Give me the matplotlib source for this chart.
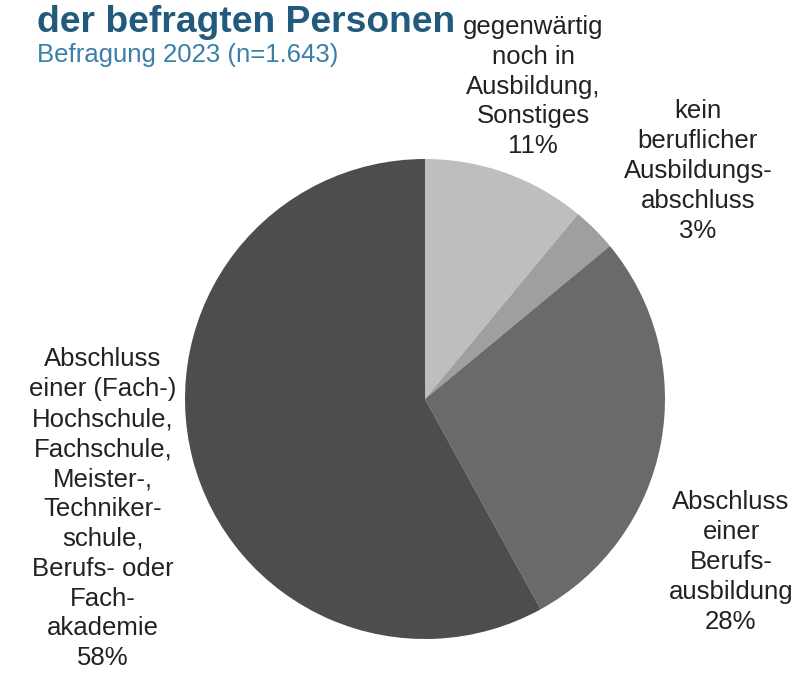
import matplotlib
matplotlib.use("Agg")
import matplotlib.pyplot as plt

plt.rcParams['font.family'] = ['Liberation Sans', 'DejaVu Sans']

# categories clockwise from the top
labels = ["gegenwärtig\nnoch in\nAusbildung,\nSonstiges",
          "kein\nberuflicher\nAusbildungs-\nabschluss",
          "Abschluss\neiner\nBerufs-\nausbildung",
          "Abschluss\neiner (Fach-)\nHochschule,\nFachschule,\nMeister-,\nTechniker-\nschule,\nBerufs- oder\nFach-\nakademie"]
shares = [11, 3, 28, 58]
colors = ["#bebebe", "#9f9f9f", "#6a6a6a", "#4d4d4d"]

# label centres in units of the pie radius
label_pos = [(0.45, 1.302), (1.137, 0.95), (1.275, -0.679), (-1.342, -0.458)]

fig = plt.figure(figsize=(7.98, 6.75), dpi=100)
ax = fig.add_axes([0, 0, 1, 1])
ax.pie(shares, colors=colors, startangle=90, counterclock=False, radius=1,
       wedgeprops={'linewidth': 0})
ax.set_xlim(-425 / 240, (798 - 425) / 240)
ax.set_ylim(-(675 - 399) / 240, 399 / 240)
ax.set_aspect('equal')
ax.axis('off')

for lab, val, (x, y) in zip(labels, shares, label_pos):
    ax.text(x, y, f"{lab}\n{val}%", ha='center', va='center', fontsize=18.5,
            color='#222222', linespacing=1.31)

fig.text(37 / 798, 1 - 32 / 675, "der befragten Personen", fontsize=26.8,
         fontweight='bold', color='#215a7c', ha='left', va='baseline')
fig.text(37 / 798, 1 - 62 / 675, "Befragung 2023 (n=1.643)", fontsize=18.5,
         color='#3a7fa8', ha='left', va='baseline')

fig.savefig("out.png", dpi=100)
